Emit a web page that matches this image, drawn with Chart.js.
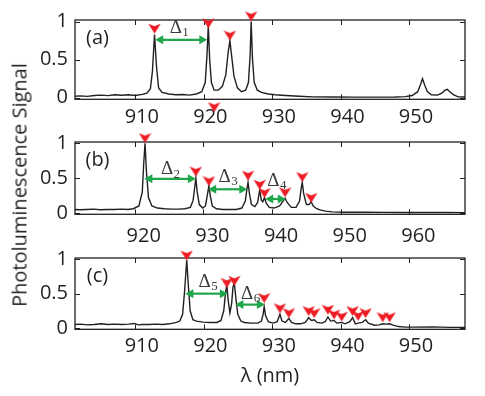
<!DOCTYPE html>
<html><head><meta charset="utf-8">
<script src="https://cdn.jsdelivr.net/npm/chart.js@4.4.0/dist/chart.umd.min.js"></script>
<style>
html,body{margin:0;padding:0;background:#fff;}
#wrap{position:relative;width:485px;height:396px;overflow:hidden;background:#fff;}
canvas{position:absolute;left:0;}
#ylab{position:absolute;left:19px;top:185px;transform:translate(-50%,-50%) rotate(-90deg);font-family:"Open Sans";font-size:20px;white-space:nowrap;color:#231f20;}
</style></head>
<body><div id="wrap">
<canvas id="ca" width="485" height="126" style="top:0px"></canvas>
<canvas id="cb" width="485" height="122" style="top:122px"></canvas>
<canvas id="cc" width="485" height="158" style="top:238px"></canvas>
<div id="ylab">Photoluminescence Signal</div>
</div>
<script>
// ---------- tick labels ----------
const xTicksA = [910, 920, 930, 940, 950];
const xTicksB = [920, 930, 940, 950, 960];
const xTicksC = [910, 920, 930, 940, 950];
const yTicks = [0, 0.5, 1];
const panelTags = ['(a)', '(b)', '(c)'];
const xAxisTitle = 'λ (nm)';

// ---------- panel (a) spectrum ----------
const wavelengthA = [901.2,902,903,904,905,906,907,908,909,910,911,911.7,912.2,912.5,912.8,913.1,913.4,913.9,914.9,915.9,916.9,917.9,918.9,919.7,920.2,920.45,920.65,920.85,921.1,921.5,922.1,922.7,923.2,923.55,923.8,924.05,924.4,924.9,925.5,926.1,926.5,926.75,926.9,927.1,927.35,927.8,928.4,929.4,930.4,931.9,933.9,935.9,938.9,941.9,944.9,947.9,949.4,950.4,951.2,951.6,951.9,952.2,952.6,953.2,954.1,954.7,955.2,955.5,955.9,956.4,957.1,958.1];
const signalA = [0.02,0.025,0.018,0.03,0.035,0.028,0.04,0.033,0.04,0.03,0.045,0.06,0.12,0.35,0.83,0.4,0.13,0.07,0.05,0.04,0.042,0.035,0.05,0.08,0.2,0.55,0.94,0.5,0.2,0.1,0.1,0.15,0.3,0.6,0.75,0.55,0.28,0.13,0.08,0.1,0.2,0.55,1.0,0.5,0.2,0.1,0.07,0.05,0.04,0.03,0.02,0.012,0.01,0.008,0.008,0.01,0.015,0.03,0.08,0.17,0.25,0.17,0.08,0.04,0.035,0.06,0.1,0.11,0.08,0.04,0.012,0.01];
const markerXA = [912.8, 920.65, 923.8, 926.9, 921.5];
const markerYA = [0.91, 0.98, 0.82, 1.07, -0.12];

// ---------- panel (b) spectrum ----------
const wavelengthB = [911.3,912,913,914,915,916,917,918,919,919.8,920.6,921.1,921.3,921.5,921.7,922.0,922.5,923.3,924.3,925.3,926.3,927.3,928.1,928.5,928.75,928.9,929.1,929.4,929.9,930.3,930.6,930.8,931.0,931.3,931.9,932.8,933.8,934.8,935.6,936.1,936.35,936.5,936.7,937.0,937.5,937.9,938.2,938.45,938.65,938.9,939.15,939.6,940.3,941.1,941.6,941.9,942.2,942.8,943.5,944.0,944.25,944.4,944.6,945.0,945.4,945.7,946.0,946.5,947.1,947.8,948.8,950.3,953.3,956.3,959.3,962.3,965.3,968.1];
const signalB = [0.05,0.045,0.05,0.055,0.045,0.05,0.048,0.055,0.05,0.06,0.1,0.3,0.7,1.0,0.6,0.22,0.1,0.07,0.06,0.055,0.055,0.06,0.08,0.18,0.38,0.5,0.3,0.12,0.07,0.1,0.27,0.39,0.25,0.1,0.06,0.05,0.05,0.05,0.07,0.17,0.35,0.44,0.28,0.12,0.09,0.15,0.33,0.18,0.16,0.22,0.14,0.08,0.07,0.1,0.17,0.21,0.15,0.08,0.08,0.17,0.36,0.44,0.28,0.12,0.12,0.16,0.1,0.06,0.04,0.025,0.015,0.01,0.01,0.008,0.006,0.005,0.005,0.004];
const markerXB = [921.5, 928.9, 930.8, 936.5, 938.2, 938.9, 941.9, 944.4, 945.7];
const markerYB = [1.08, 0.6, 0.46, 0.54, 0.41, 0.29, 0.30, 0.52, 0.22];

// ---------- panel (c) spectrum ----------
const wavelengthC = [901.2,902,903,904,905,906,907,908,909,909.9,910.4,911,912,913,914,915,916,916.5,916.9,917.2,917.5,917.75,918.0,918.4,918.9,919.9,920.9,921.9,922.5,922.9,923.15,923.35,923.55,923.8,924.05,924.25,924.45,924.65,924.95,925.4,925.9,926.9,927.9,928.4,928.65,928.8,929.0,929.4,930.1,930.7,931.1,931.4,931.9,932.4,932.8,933.4,934.1,934.8,935.3,935.7,936.1,936.5,937.2,937.7,938.1,938.5,939.0,939.4,940.1,940.6,941.3,941.7,942.1,942.5,943.1,943.6,944.0,944.9,945.6,946.1,946.6,947.1,947.6,948.4,949.4,950.9,953.4,955.9,958.1];
const signalC = [0.05,0.055,0.045,0.05,0.06,0.05,0.055,0.05,0.055,0.065,0.045,0.05,0.05,0.055,0.05,0.06,0.08,0.1,0.2,0.55,0.99,0.6,0.25,0.12,0.1,0.085,0.08,0.08,0.11,0.25,0.5,0.63,0.4,0.22,0.35,0.6,0.65,0.45,0.2,0.1,0.08,0.07,0.07,0.1,0.2,0.31,0.18,0.09,0.07,0.09,0.2,0.1,0.08,0.14,0.08,0.06,0.06,0.08,0.15,0.11,0.12,0.08,0.07,0.09,0.16,0.1,0.11,0.07,0.08,0.06,0.09,0.15,0.06,0.07,0.08,0.12,0.07,0.04,0.045,0.06,0.055,0.06,0.04,0.02,0.012,0.012,0.015,0.008,0.008];
const markerXC = [917.5, 923.35, 924.45, 928.8, 931.1, 932.4, 935.3, 936.1, 938.1, 939.0, 940.1, 941.7, 942.5, 943.6, 946.1, 947.1];
const markerYC = [1.06, 0.66, 0.69, 0.44, 0.29, 0.22, 0.25, 0.22, 0.27, 0.20, 0.17, 0.25, 0.18, 0.22, 0.16, 0.16];

// ---------- spacing annotations (data units) ----------
const spacingA = [{from: 912.9, to: 920.5, at: 0.76, sub: '1', lx: 915.9, ly: 0.915}];
const spacingB = [
  {from: 921.4, to: 928.9, at: 0.49, sub: '2', lx: 924.7, ly: 0.63},
  {from: 930.7, to: 936.4, at: 0.34, sub: '3', lx: 933.1, ly: 0.52},
  {from: 939.0, to: 942.0, at: 0.20, sub: '4', lx: 940.2, ly: 0.46}
];
const spacingC = [
  {from: 917.3, to: 923.5, at: 0.50, sub: '5', lx: 920.1, ly: 0.67},
  {from: 924.6, to: 928.9, at: 0.34, sub: '6', lx: 926.3, ly: 0.50}
];

const INK = '#231f20';
const RED = '#ed1c24';
const GREEN = '#1fa64a';

// arrowhead-shaped marker glyph (downward, notched top)
const markerImg = document.createElement('canvas');
markerImg.width = 13; markerImg.height = 11;
(function () {
  const c = markerImg.getContext('2d');
  c.fillStyle = RED;
  c.beginPath();
  c.moveTo(0.3, 0.8); c.lineTo(6.5, 3.2); c.lineTo(12.7, 0.8); c.lineTo(6.5, 10.8); c.closePath();
  c.fill();
})();

const framePlugin = {
  id: 'frame',
  beforeDatasetsDraw(chart) {
    const {ctx, chartArea: a, scales: {x, y}} = chart;
    ctx.save();
    ctx.strokeStyle = INK;
    ctx.lineWidth = 1;
    ctx.beginPath();
    x.ticks.forEach(t => {
      const p = Math.round(x.getPixelForValue(t.value)) + 0.5;
      ctx.moveTo(p, a.bottom); ctx.lineTo(p, a.bottom - 5);
      ctx.moveTo(p, a.top); ctx.lineTo(p, a.top + 5);
    });
    y.ticks.forEach(t => {
      const p = Math.round(y.getPixelForValue(t.value)) + 0.5;
      ctx.moveTo(a.left, p); ctx.lineTo(a.left + 5, p);
      ctx.moveTo(a.right, p); ctx.lineTo(a.right - 5, p);
    });
    ctx.stroke();
    ctx.lineWidth = 1.3;
    ctx.strokeRect(a.left, a.top, a.right - a.left, a.bottom - a.top);
    ctx.restore();
  },
  afterDatasetsDraw(chart, args, opts) {
    const {ctx, chartArea: a, scales: {x, y}} = chart;
    ctx.save();
    ctx.fillStyle = INK;
    ctx.font = '20px "Open Sans"';
    ctx.textAlign = 'center';
    ctx.textBaseline = 'middle';
    ctx.fillText(opts.tag, a.left + 22.5, a.top + 18.5);
    (opts.spacing || []).forEach(s => {
      const x1 = x.getPixelForValue(s.from), x2 = x.getPixelForValue(s.to), py = y.getPixelForValue(s.at);
      const head = 8, hw = 4.5;
      ctx.strokeStyle = GREEN; ctx.fillStyle = GREEN; ctx.lineWidth = 2.2;
      ctx.beginPath(); ctx.moveTo(x1 + head - 1, py); ctx.lineTo(x2 - head + 1, py); ctx.stroke();
      ctx.beginPath(); ctx.moveTo(x1, py); ctx.lineTo(x1 + head, py - hw); ctx.lineTo(x1 + head, py + hw); ctx.closePath(); ctx.fill();
      ctx.beginPath(); ctx.moveTo(x2, py); ctx.lineTo(x2 - head, py - hw); ctx.lineTo(x2 - head, py + hw); ctx.closePath(); ctx.fill();
      const cx = x.getPixelForValue(s.lx), cy = y.getPixelForValue(s.ly);
      ctx.fillStyle = '#3a3a3a';
      ctx.textAlign = 'left'; ctx.textBaseline = 'middle';
      ctx.font = '19px "Liberation Serif"';
      const w = ctx.measureText('Δ').width;
      ctx.fillText('Δ', cx - w / 2, cy);
      ctx.font = '13px "Liberation Serif"';
      ctx.fillText(s.sub, cx + w / 2 + 0.5, cy + 5);
    });
    ctx.restore();
  }
};

function panel(id, o) {
  const pts = o.wl.map((v, i) => ({x: v, y: o.sig[i]}));
  const marks = o.mx.map((v, i) => ({x: v, y: o.my[i]}));
  const xScale = {
    type: 'linear', position: 'bottom', min: o.xMin, max: o.xMax,
    afterBuildTicks: s => { s.ticks = o.xTicks.map(v => ({value: v})); },
    afterFit: s => { s.height = o.xAxisH; },
    grid: {display: false, drawTicks: false},
    border: {display: false},
    ticks: {font: {family: 'Open Sans', size: 20}, color: INK, padding: o.xPad, labelOffset: o.labOff, maxRotation: 0, autoSkip: false, callback: v => String(v)}
  };
  if (o.title) {
    xScale.title = {display: true, text: o.title, font: {family: 'Open Sans', size: 20}, color: INK, padding: {top: 0, bottom: 7.3}};
  }
  return new Chart(document.getElementById(id), {
    type: 'line',
    data: {datasets: [
      {type: 'scatter', data: marks, showLine: false, pointStyle: markerImg, pointRadius: 20, pointBorderWidth: 0, clip: false},
      {data: pts, borderColor: INK, borderWidth: 1.4, pointRadius: 0, tension: 0, fill: false}
    ]},
    options: {
      responsive: false, animation: false, devicePixelRatio: 1, events: [],
      layout: {padding: {left: 0, right: 12, top: o.padTop, bottom: 0}},
      plugins: {legend: {display: false}, tooltip: {enabled: false}, frame: {tag: o.tag, spacing: o.spacing}},
      scales: {
        x: xScale,
        y: {
          type: 'linear', min: -0.02, max: 1.02,
          afterBuildTicks: s => { s.ticks = yTicks.map(v => ({value: v})); },
          afterFit: s => { s.width = 75; },
          grid: {display: false, drawTicks: false},
          border: {display: false},
          ticks: {font: {family: 'Open Sans', size: 20}, color: INK, padding: 7, callback: v => String(v)}
        }
      }
    },
    plugins: [framePlugin]
  });
}

panel('ca', {wl: wavelengthA, sig: signalA, mx: markerXA, my: markerYA, xMin: 901.2, xMax: 958.1, xTicks: xTicksA, labOff: 6.5, padTop: 17.7, xAxisH: 26.7, xPad: 5.5, tag: panelTags[0], spacing: spacingA});
panel('cb', {wl: wavelengthB, sig: signalB, mx: markerXB, my: markerYB, xMin: 911.3, xMax: 968.1, xTicks: xTicksB, labOff: 9, padTop: 10.3, xAxisH: 29.7, xPad: 10, tag: panelTags[1], spacing: spacingB});
panel('cc', {wl: wavelengthC, sig: signalC, mx: markerXC, my: markerYC, xMin: 901.2, xMax: 958.1, xTicks: xTicksC, labOff: 6.5, padTop: 8.7, xAxisH: 66.7, xPad: 5.4, tag: panelTags[2], spacing: spacingC, title: xAxisTitle});
</script>
</body></html>
